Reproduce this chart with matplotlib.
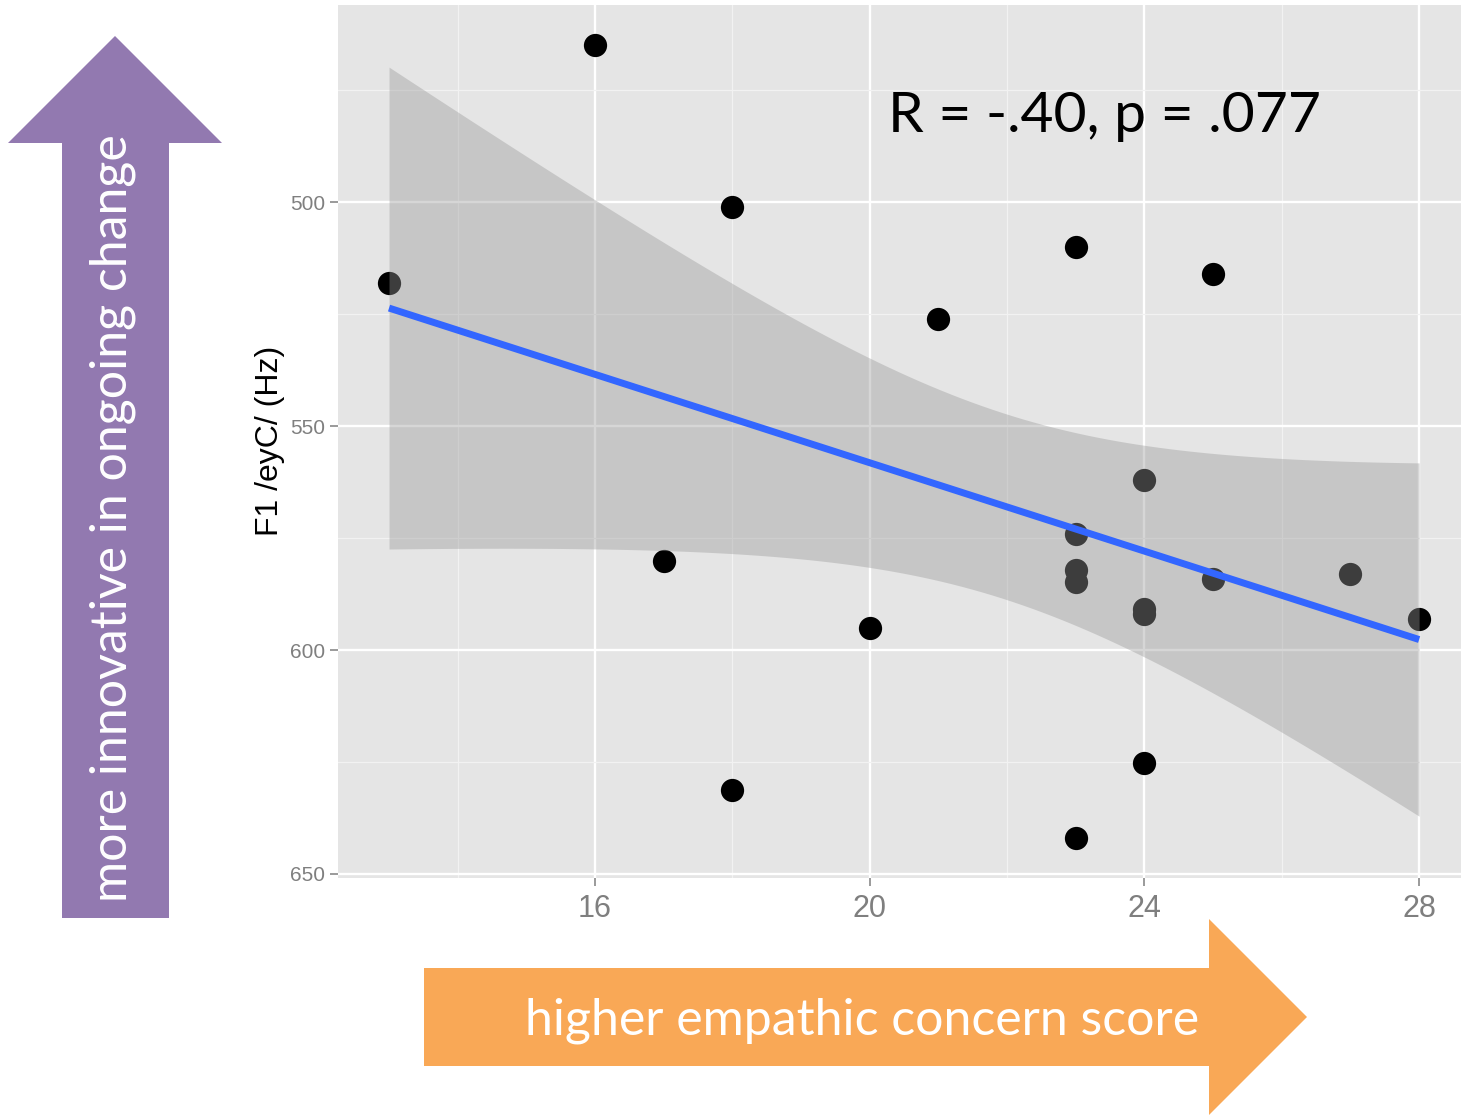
import numpy as np
import matplotlib
matplotlib.use("Agg")
import matplotlib.pyplot as plt
from matplotlib.patches import Polygon

# empathic concern score vs F1 of /eyC/ (Hz)
ec_score = [13, 16, 18, 17, 18, 20, 21, 23, 23, 23, 23, 23, 24, 24, 24, 24, 25, 25, 27, 28]
f1_hz = [518.1, 465.0, 501.1, 580.1, 631.3, 595.1, 526.1, 510.0, 574.1, 582.1,
         584.8, 642.0, 562.1, 590.8, 592.0, 625.2, 516.1, 584.2, 583.0, 593.1]

x_ticks = [16, 20, 24, 28]
x_minor = [14, 18, 22, 26]
y_ticks = [500, 550, 600, 650]
y_minor = [475, 525, 575, 625]

stat_text = "R = -.40, p = .077"
y_label = "F1 /eyC/ (Hz)"
up_text = "more innovative in ongoing change"
right_text = "higher empathic concern score"

W, H = 1461, 1116
fig = plt.figure(figsize=(W / 100, H / 100), dpi=100)


def px(x, y):
    # pixel coords (top-left origin) -> figure fraction
    return (x / W, 1 - y / H)


ax = fig.add_axes([338 / W, 1 - 878 / H, (W - 338) / W, 873 / H])
ax.set_facecolor("#E5E5E5")
for s in ax.spines.values():
    s.set_visible(False)

x = np.array(ec_score, dtype=float)
y = np.array(f1_hz)

# linear fit with 95% confidence band (like geom_smooth(method="lm"))
n = len(x)
slope, intercept = np.polyfit(x, y, 1)
xs = np.linspace(x.min(), x.max(), 100)
fit = intercept + slope * xs
resid = y - (intercept + slope * x)
s_err = np.sqrt(np.sum(resid ** 2) / (n - 2))
sxx = np.sum((x - x.mean()) ** 2)
t_val = 2.100922  # t(0.975, df=18)
se = s_err * np.sqrt(1 / n + (xs - x.mean()) ** 2 / sxx)

ax.scatter(x, y, s=280, color="black", linewidths=0, zorder=2)
ax.fill_between(xs, fit - t_val * se, fit + t_val * se, color="#999999",
                alpha=0.4, linewidth=0, zorder=3)
ax.plot(xs, fit, color="#3366FF", lw=5, solid_capstyle="butt", zorder=4)

ax.set_xlim(12.257, 28.61)
ax.set_ylim(650.9, 456.0)
ax.set_xticks(x_ticks)
ax.set_xticks(x_minor, minor=True)
ax.set_yticks(y_ticks)
ax.set_yticks(y_minor, minor=True)
ax.set_axisbelow(True)
ax.grid(which="major", color="white", lw=1.7)
ax.grid(which="minor", color="#F2F2F2", lw=0.9)
ax.tick_params(which="major", length=5.5, width=1.1, color="#7F7F7F",
               labelcolor="#7F7F7F", pad=4)
ax.tick_params(which="minor", length=0)
ax.tick_params(axis="y", labelsize=15)
ax.tick_params(axis="x", labelsize=22, pad=6)
for lab in ax.get_xticklabels() + ax.get_yticklabels():
    lab.set_family("Liberation Sans")

fig.text(*px(270, 441), y_label, rotation=90, ha="center", va="center",
         fontsize=23, family="Liberation Sans", color="black")

fig.text(*px(888, 132), stat_text, ha="left", va="baseline",
         fontsize=41, family="Lato", color="black")

# purple arrow pointing up
up_arrow = [(62, 918), (169, 918), (169, 143), (222, 143), (115, 36),
            (8, 143), (62, 143)]
fig.patches.append(Polygon([px(a, b) for a, b in up_arrow], closed=True,
                           transform=fig.transFigure, facecolor="#9279B0",
                           edgecolor="none"))
fig.text(*px(127, 518), up_text, rotation=90, ha="center", va="baseline",
         rotation_mode="anchor", fontsize=36, family="Lato", color="white")

# orange arrow pointing right
right_arrow = [(424, 968), (1209, 968), (1209, 919), (1307, 1017),
               (1209, 1115), (1209, 1066), (424, 1066)]
fig.patches.append(Polygon([px(a, b) for a, b in right_arrow], closed=True,
                           transform=fig.transFigure, facecolor="#F9A856",
                           edgecolor="none"))
fig.text(*px(862, 1035), right_text, ha="center", va="baseline",
         fontsize=36, family="Lato", color="white")

fig.savefig("out.png", dpi=100)
